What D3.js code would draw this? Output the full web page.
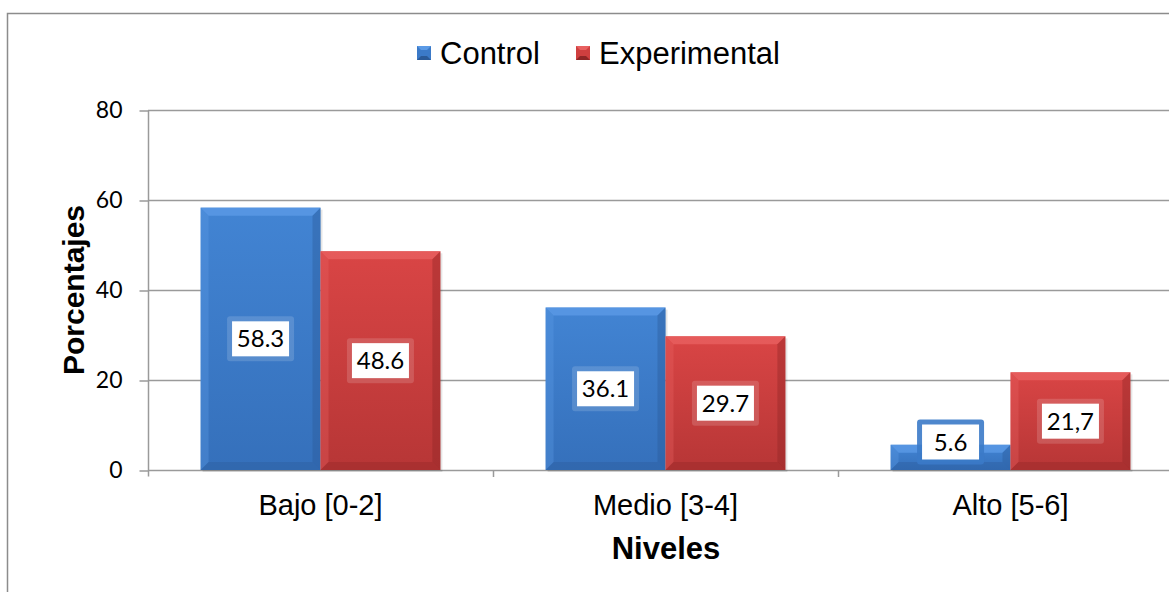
<!DOCTYPE html>
<html lang="es">
<head>
<meta charset="utf-8"/>
<title>Niveles - Control vs Experimental</title>
<script src="https://d3js.org/d3.v7.min.js"></script>
<style>
  body { margin: 0; background: #fff; }
</style>
</head>
<body>
<script>
// data
var categories = ["Bajo [0-2]", "Medio [3-4]", "Alto [5-6]"];
var seriesNames = ["Control", "Experimental"];
var controlValues = [58.3, 36.1, 5.6];
var experimentalValues = [48.6, 29.7, 21.7];
var labelText = [["58.3", "36.1", "5.6"], ["48.6", "29.7", "21,7"]];
var yTicks = [0, 20, 40, 60, 80];

var w = 1169, h = 592;
var svg = d3.select("body").append("svg").attr("width", w).attr("height", h);

var defs = svg.append("defs");
function grad(id, c1, c2) {
  var g = defs.append("linearGradient").attr("id", id).attr("x1", 0).attr("y1", 0).attr("x2", 0).attr("y2", 1);
  g.append("stop").attr("offset", "0%").attr("stop-color", c1);
  g.append("stop").attr("offset", "100%").attr("stop-color", c2);
}
grad("gBlue", "#4284d3", "#3570bb");
grad("gRed", "#d94545", "#b73636");
var colors = { fill: ["url(#gBlue)", "url(#gRed)"], light: ["#5b9ae6", "#e86060"], dark: ["#2a5a98", "#8f2626"], solid: ["#3b7ac8", "#cf3f3f"] };

// outer frame
svg.append("rect").attr("x", 7.5).attr("y", 13.5).attr("width", w + 20).attr("height", h + 20)
  .attr("fill", "none").attr("stroke", "#8c8c8c").attr("stroke-width", 1.5);

var x0 = 148, yTop = 110, yBottom = 470;
var step = 345;

var xScale = d3.scaleBand().domain(categories).range([x0, x0 + step * categories.length])
  .paddingInner(0.305).paddingOuter(0.1525);
var xInner = d3.scaleBand().domain([0, 1]).range([0, xScale.bandwidth()]);
var yScale = d3.scaleLinear().domain([0, 80]).range([yBottom, yTop]);

// gridlines
svg.append("g").selectAll("line").data(yTicks.filter(function (d) { return d > 0; })).enter()
  .append("line")
  .attr("x1", x0).attr("x2", w)
  .attr("y1", function (d) { return yScale(d) + 0.5; }).attr("y2", function (d) { return yScale(d) + 0.5; })
  .attr("stroke", "#9a9a9a").attr("stroke-width", 1.5);

// y axis
var yAxis = svg.append("g").attr("transform", "translate(" + (x0 + 0.5) + ",0.5)")
  .call(d3.axisLeft(yScale).tickValues(yTicks).tickSize(9).tickPadding(17));
yAxis.select(".domain").attr("stroke", "#9a9a9a").attr("stroke-width", 1.5).attr("d", "M0," + yTop + "V" + (yBottom + 6));
yAxis.selectAll(".tick line").attr("stroke", "#9a9a9a").attr("stroke-width", 1.5);
yAxis.selectAll(".tick text").attr("font-family", "Lato, 'Open Sans', sans-serif").attr("font-size", 23).attr("fill", "#000");

// x axis baseline and ticks
svg.append("line").attr("x1", x0).attr("x2", w).attr("y1", yBottom + 0.5).attr("y2", yBottom + 0.5)
  .attr("stroke", "#9a9a9a").attr("stroke-width", 1.5);
svg.append("g").selectAll("line").data(d3.range(1, categories.length + 1)).enter().append("line")
  .attr("x1", function (i) { return x0 + i * step + 0.5; }).attr("x2", function (i) { return x0 + i * step + 0.5; })
  .attr("y1", yBottom).attr("y2", yBottom + 7)
  .attr("stroke", "#9a9a9a").attr("stroke-width", 1.5);

svg.append("g").selectAll("text").data(categories).enter().append("text")
  .attr("x", function (d) { return xScale(d) + xScale.bandwidth() / 2; })
  .attr("y", 515).attr("text-anchor", "middle")
  .attr("font-family", "Liberation Sans, Arial, sans-serif").attr("font-size", 29).attr("fill", "#000")
  .text(function (d) { return d; });

// bars
var values = [controlValues, experimentalValues];
var bevel = 8;
values.forEach(function (vals, s) {
  var g = svg.append("g");
  categories.forEach(function (c, i) {
    var bx = xScale(c) + xInner(s), bw = xInner.bandwidth();
    var by = yScale(vals[i]), bh = yBottom - by;
    var b = Math.min(bevel, bh / 2);
    g.append("rect").attr("x", bx + 2).attr("y", by + 2).attr("width", bw).attr("height", bh)
      .attr("fill", "#000").attr("opacity", 0.1);
    g.append("rect").attr("x", bx).attr("y", by).attr("width", bw).attr("height", bh).attr("fill", colors.fill[s]);
    // bevel edges
    g.append("path").attr("d", "M" + bx + "," + by + "h" + bw + "l" + (-b) + "," + b + "h" + (-(bw - 2 * b)) + "z")
      .attr("fill", colors.light[s]).attr("opacity", 0.8);
    g.append("path").attr("d", "M" + bx + "," + by + "l" + b + "," + b + "v" + (bh - 2 * b) + "l" + (-b) + "," + b + "z")
      .attr("fill", colors.light[s]).attr("opacity", 0.35);
    g.append("path").attr("d", "M" + (bx + bw) + "," + by + "l" + (-b) + "," + b + "v" + (bh - 2 * b) + "l" + b + "," + b + "z")
      .attr("fill", colors.dark[s]).attr("opacity", 0.4);
    g.append("path").attr("d", "M" + bx + "," + (by + bh) + "l" + b + "," + (-b) + "h" + (bw - 2 * b) + "l" + b + "," + b + "z")
      .attr("fill", colors.dark[s]).attr("opacity", 0.35);
  });
});

// data labels
values.forEach(function (vals, s) {
  categories.forEach(function (c, i) {
    var cx = xScale(c) + xInner(s) + xInner.bandwidth() / 2;
    var by = yScale(vals[i]);
    var cy = Math.min((by + yBottom) / 2, yBottom - 28);
    var lw = 57, lh = 35;
    var small = (yBottom - by) < lh;
    svg.append("rect").attr("x", cx - lw / 2 - 5).attr("y", cy - lh / 2 - 5).attr("width", lw + 10).attr("height", lh + 10)
      .attr("rx", 3)
      .attr("fill", small ? colors.solid[s] : "#fff").attr("opacity", small ? 0.9 : 0.15);
    svg.append("rect").attr("x", cx - lw / 2).attr("y", cy - lh / 2).attr("width", lw).attr("height", lh).attr("fill", "#fff");
    svg.append("text").attr("x", cx).attr("y", cy + 8.5).attr("text-anchor", "middle")
      .attr("font-family", "Lato, 'Open Sans', sans-serif").attr("font-size", 24).attr("fill", "#000")
      .text(labelText[s][i]);
  });
});

// legend
var legendX = [417, 576];
seriesNames.forEach(function (name, s) {
  var lx = legendX[s];
  svg.append("rect").attr("x", lx).attr("y", 46).attr("width", 14).attr("height", 14).attr("fill", colors.solid[s]);
  svg.append("path").attr("d", "M" + lx + ",46h14l-4,4h-6z").attr("fill", colors.light[s]);
  svg.append("path").attr("d", "M" + lx + ",60h14l-4,-4h-6z").attr("fill", colors.dark[s]);
  svg.append("text").attr("x", lx + 23).attr("y", 64)
    .attr("font-family", "Liberation Sans, Arial, sans-serif").attr("font-size", 31).attr("fill", "#000")
    .text(name);
});

// axis titles
svg.append("text").attr("x", 666).attr("y", 559).attr("text-anchor", "middle")
  .attr("font-family", "Liberation Sans, Arial, sans-serif").attr("font-weight", "bold").attr("font-size", 31)
  .text("Niveles");
svg.append("text").attr("transform", "translate(84,290) rotate(-90)").attr("text-anchor", "middle")
  .attr("font-family", "Liberation Sans, Arial, sans-serif").attr("font-weight", "bold").attr("font-size", 30)
  .text("Porcentajes");
</script>
</body>
</html>
